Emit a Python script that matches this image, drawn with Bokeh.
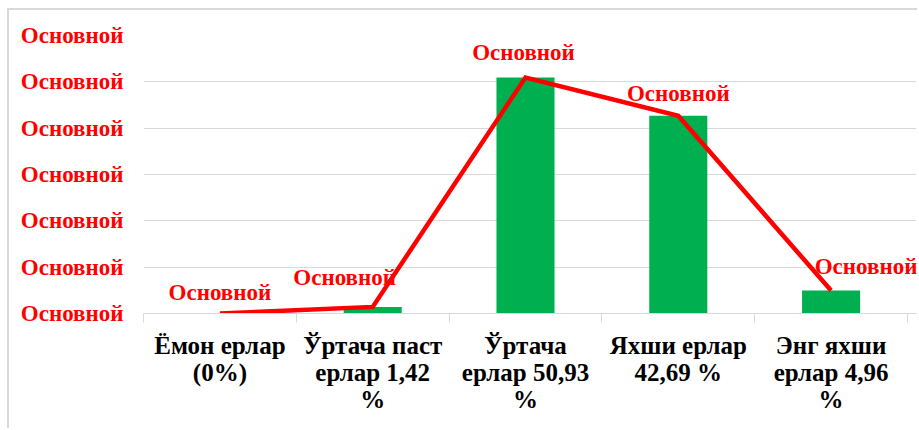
from bokeh.plotting import figure
from bokeh.models import Range1d, FixedTicker, LinearAxis, ColumnDataSource, LabelSet
from bokeh.embed import file_html
from bokeh.resources import INLINE

# ---- data ----
categories = [
    "Ёмон ерлар\n(0%)",
    "Ўртача паст\nерлар 1,42\n%",
    "Ўртача\nерлар 50,93\n%",
    "Яхши ерлар\n42,69 %",
    "Энг яхши\nерлар 4,96\n%",
]
values = [0, 1.42, 50.93, 42.69, 4.96]
y_ticks = [0, 10, 20, 30, 40, 50, 60]
y_tick_text = "Основной"
point_label_text = "Основной"

# label placement (screen px offsets from each point)
label_dx = [0, -28, -2, 0, 35]
label_dy = [21, 29, 25, 22, 24]

FONT = "Liberation Serif"
RED = "#ff0000"
GREEN = "#00b050"
GRID = "#d9d9d9"

n = len(categories)
centers = [i + 0.5 for i in range(n)]

p = figure(
    width=910, height=420,
    x_range=Range1d(0, n + 0.059), y_range=Range1d(0, y_ticks[-1]),
    output_backend="svg", toolbar_location=None,
    x_axis_location=None,
    min_border_left=134, min_border_right=3,
    min_border_top=25, min_border_bottom=117,
)
p.margin = (8, 0, 0, 7)
p.styles = {"border-top": "2px solid #d9d9d9", "border-left": "2px solid #d9d9d9"}
p.outline_line_color = None
p.background_fill_color = "white"
p.border_fill_color = "white"

# y axis
ya = p.yaxis[0]
ya.ticker = FixedTicker(ticks=y_ticks)
ya.major_label_overrides = {t: y_tick_text for t in y_ticks}
ya.major_label_text_font = FONT
ya.major_label_text_font_style = "bold"
ya.major_label_text_font_size = "23px"
ya.major_label_text_color = RED
ya.major_label_standoff = 14
ya.axis_line_color = None
ya.major_tick_line_color = None
ya.minor_tick_line_color = None

p.ygrid.ticker = FixedTicker(ticks=y_ticks)
p.ygrid.grid_line_color = GRID
p.xgrid.grid_line_color = None

# bottom: boundary ticks axis
bx = LinearAxis(ticker=FixedTicker(ticks=list(range(n + 1))))
bx.major_label_overrides = {i: "" for i in range(n + 1)}
bx.major_label_text_font_size = "0px"
bx.major_label_standoff = 0
bx.major_tick_out = 9
bx.major_tick_in = 0
bx.major_tick_line_color = GRID
bx.axis_line_color = GRID
bx.minor_tick_line_color = None
p.add_layout(bx, "below")

# bottom: category labels axis
cx = LinearAxis(ticker=FixedTicker(ticks=centers))
cx.major_label_overrides = {c: lab for c, lab in zip(centers, categories)}
cx.major_label_text_font = FONT
cx.major_label_text_font_style = "bold"
cx.major_label_text_font_size = "25px"
cx.major_label_text_line_height = 1.0
cx.major_label_text_color = "black"
cx.major_label_standoff = 3
cx.major_tick_line_color = None
cx.minor_tick_line_color = None
cx.axis_line_color = None
p.add_layout(cx, "below")

src = ColumnDataSource(dict(
    x=centers, y=values,
    text=[point_label_text] * n,
    dx=label_dx, dy=label_dy,
))

p.vbar(x="x", top="y", width=0.38, source=src, fill_color=GREEN, line_color=None)
p.line(x="x", y="y", source=src, line_color=RED, line_width=4.5, line_join="miter")

labels = LabelSet(
    x="x", y="y", text="text", x_offset="dx", y_offset="dy", source=src,
    text_font=FONT, text_font_style="bold", text_font_size="23px",
    text_color=RED, text_align="center", text_baseline="middle",
)
p.add_layout(labels)

open("out.html", "w").write(file_html(p, INLINE))
